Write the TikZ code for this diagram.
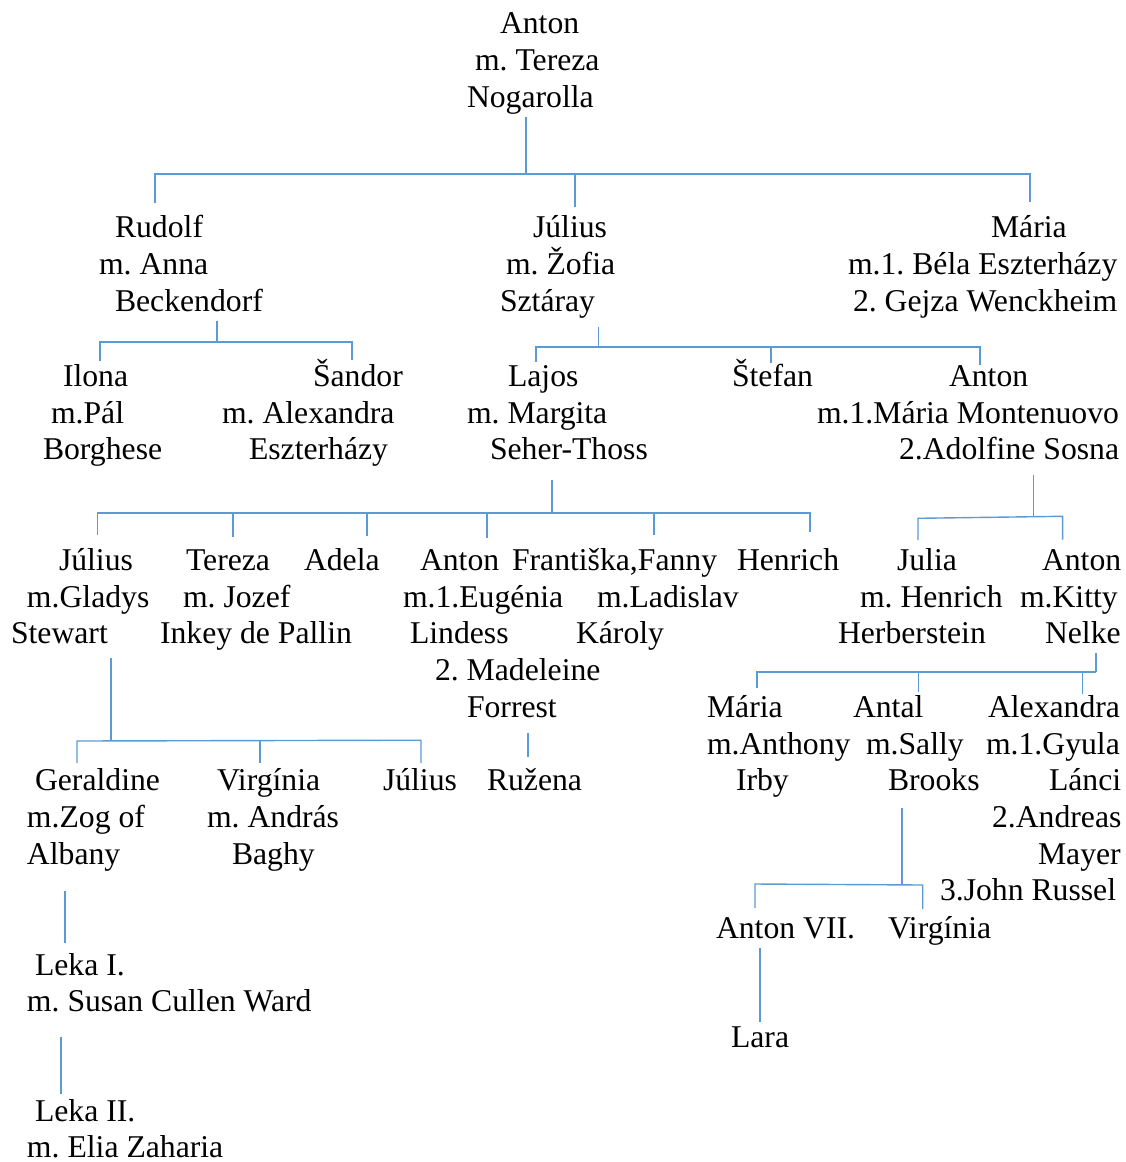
\documentclass[tikz,border=0pt]{standalone}
\usepackage{fontspec}
\setmainfont{Liberation Serif}
\frenchspacing
\definecolor{linkblue}{RGB}{91,155,213}
\tikzset{
  txt/.style={anchor=base west,inner sep=0pt,outer sep=0pt,font=\fontsize{31.7}{37}\selectfont},
  link/.style={draw=linkblue,line width=1.4pt}
}
\begin{document}
\frenchspacing
\begin{tikzpicture}[x=1pt,y=-1pt]
\useasboundingbox (0,0) rectangle (1125,1162);
% ---------- generation 0
\node[txt] (a0a) at (500,33) {Anton};
\node[txt] (a0b) at (475,70) {m. Tereza};
\node[txt] (a0c) at (467,107) {Nogarolla};
% ---------- generation 1
\node[txt] (rua) at (115,237) {Rudolf};
\node[txt] (rub) at (99,274) {m. Anna};
\node[txt] (ruc) at (115,311) {Beckendorf};
\node[txt] (jua) at (533,237) {Július};
\node[txt] (jub) at (506,274) {m. Žofia};
\node[txt] (juc) at (500,311) {Sztáray};
\node[txt] (maa) at (991,237) {Mária};
\node[txt] (mab) at (848,274) {m.1. Béla Eszterházy};
\node[txt] (mac) at (853,311) {2. Gejza Wenckheim};
% ---------- generation 2
\node[txt] (ila) at (63,386) {Ilona};
\node[txt] (ilb) at (51,423) {m.Pál};
\node[txt] (ilc) at (43,459) {Borghese};
\node[txt] (saa) at (313,386) {Šandor};
\node[txt] (sab) at (222,423) {m. Alexandra};
\node[txt] (sac) at (249,459) {Eszterházy};
\node[txt] (laa) at (508,386) {Lajos};
\node[txt] (lab) at (467,423) {m. Margita};
\node[txt] (lac) at (490,459) {Seher-Thoss};
\node[txt] (sta) at (732,386) {Štefan};
\node[txt] (ana) at (949,386) {Anton};
\node[txt] (anb) at (817,423) {m.1.Mária Montenuovo};
\node[txt] (anc) at (899,459) {2.Adolfine Sosna};
% ---------- generation 3
\node[txt] (jga) at (59,570) {Július};
\node[txt] (jgb) at (27,607) {m.Gladys};
\node[txt] (jgc) at (11,643) {Stewart};
\node[txt] (tea) at (186,570) {Tereza};
\node[txt] (teb) at (183,607) {m. Jozef};
\node[txt] (tec) at (160,643) {Inkey de Pallin};
\node[txt] (ada) at (304,570) {Adela};
\node[txt] (aea) at (420,570) {Anton};
\node[txt] (aeb) at (403,607) {m.1.Eugénia};
\node[txt] (aec) at (410,643) {Lindess};
\node[txt] (aed) at (435,680) {2. Madeleine};
\node[txt] (aee) at (467,717) {Forrest};
\node[txt] (fra) at (512,570) {Františka,Fanny};
\node[txt] (frb) at (597,607) {m.Ladislav};
\node[txt] (frc) at (576,643) {Károly};
\node[txt] (hea) at (737,570) {Henrich};
\node[txt] (jla) at (897,570) {Julia};
\node[txt] (jlb) at (860,607) {m. Henrich};
\node[txt] (jlc) at (838,643) {Herberstein};
\node[txt] (aka) at (1042,570) {Anton};
\node[txt] (akb) at (1020,607) {m.Kitty};
\node[txt] (akc) at (1045,643) {Nelke};
% ---------- generation 4
\node[txt] (gea) at (35,790) {Geraldine};
\node[txt] (geb) at (27,827) {m.Zog of};
\node[txt] (gec) at (27,864) {Albany};
\node[txt] (via) at (217,790) {Virgínia};
\node[txt] (vib) at (207,827) {m. András};
\node[txt] (vic) at (232,864) {Baghy};
\node[txt] (jsa) at (383,790) {Július};
\node[txt] (rza) at (487,790) {Ružena};
\node[txt] (mia) at (707,717) {Mária};
\node[txt] (mib) at (707,754) {m.Anthony};
\node[txt] (mic) at (736,790) {Irby};
\node[txt] (ata) at (853,717) {Antal};
\node[txt] (atb) at (866,754) {m.Sally};
\node[txt] (atc) at (888,790) {Brooks};
\node[txt] (ala) at (988,717) {Alexandra};
\node[txt] (alb) at (986,754) {m.1.Gyula};
\node[txt] (alc) at (1049,790) {Lánci};
\node[txt] (ald) at (992,827) {2.Andreas};
\node[txt] (ale) at (1038,864) {Mayer};
\node[txt] (alf) at (940,900) {3.John Russel};
% ---------- generation 5+
\node[txt] (a7a) at (716,938) {Anton VII.};
\node[txt] (v2a) at (888,938) {Virgínia};
\node[txt] (lra) at (731,1047) {Lara};
\node[txt] (l1a) at (35,975) {Leka I.};
\node[txt] (l1b) at (27,1011) {m. Susan Cullen Ward};
\node[txt] (l2a) at (35,1121) {Leka II.};
\node[txt] (l2b) at (27,1157) {m. Elia Zaharia};
% ---------- connector points
\coordinate (p0) at (526,117);  \coordinate (p0h) at (526,174);
\coordinate (p0l) at (155,174); \coordinate (p0ld) at (155,203);
\coordinate (p0m) at (575,174); \coordinate (p0md) at (575,207);
\coordinate (p0r) at (1030,174);\coordinate (p0rd) at (1030,202);
\coordinate (p1) at (217,321);  \coordinate (p1h) at (217,342);
\coordinate (p1l) at (100,342); \coordinate (p1ld) at (100,361);
\coordinate (p1r) at (352,342); \coordinate (p1rd) at (352,360);
\coordinate (p2) at (598.5,327); \coordinate (p2h) at (598.5,347);
\coordinate (p2l) at (536,347); \coordinate (p2ld) at (536,362);
\coordinate (p2m) at (771,347); \coordinate (p2md) at (771,363);
\coordinate (p2r) at (980,347); \coordinate (p2rd) at (980,365);
\coordinate (p3) at (552,480);  \coordinate (p3h) at (552,513);
\coordinate (p3a) at (97.5,513); \coordinate (p3ad) at (97.5,535);
\coordinate (p3b) at (233,513); \coordinate (p3bd) at (233,537);
\coordinate (p3c) at (367,513); \coordinate (p3cd) at (367,536);
\coordinate (p3d) at (487,513); \coordinate (p3dd) at (487,538);
\coordinate (p3e) at (654,513); \coordinate (p3ed) at (654,535);
\coordinate (p3f) at (810,513); \coordinate (p3fd) at (810,532);
\coordinate (p4) at (1033.5,475); \coordinate (p4h) at (1033.5,516.8);
\coordinate (p4l) at (918,518.3); \coordinate (p4ld) at (918,540);
\coordinate (p4r) at (1062.6,516.3); \coordinate (p4rd) at (1062.6,539.5);
\coordinate (p5) at (111,658);  \coordinate (p5h) at (111,740.7);
\coordinate (p5a) at (77,741);  \coordinate (p5ad) at (77,763);
\coordinate (p5b) at (260,740.8); \coordinate (p5bd) at (260,763);
\coordinate (p5c) at (421,740.2); \coordinate (p5cd) at (421,763);
\coordinate (p6) at (528,733);  \coordinate (p6d) at (528,757);
\coordinate (p7) at (65,891);   \coordinate (p7d) at (65,943);
\coordinate (p8) at (61,1037);  \coordinate (p8d) at (61,1094);
\coordinate (p9) at (1096,653); \coordinate (p9h) at (1096,672);
\coordinate (p9a) at (757,672); \coordinate (p9ad) at (757,688);
\coordinate (p9b) at (918.3,672); \coordinate (p9bd) at (918.3,692);
\coordinate (p9c) at (1082.7,672); \coordinate (p9cd) at (1082.7,694);
\coordinate (q1) at (902,808);  \coordinate (q1h) at (902,884.6);
\coordinate (q1l) at (755,884); \coordinate (q1ld) at (755,908);
\coordinate (q1r) at (922.7,885); \coordinate (q1rd) at (922.7,909);
\coordinate (q2) at (760,948);  \coordinate (q2d) at (760,1022);
% ---------- connectors
\draw[link] (p0) -- (p0h);
\draw[link] (p0ld) -- (p0l) -- (p0r) -- (p0rd);
\draw[link] (p0m) -- (p0md);
\draw[link] (p1) -- (p1h);
\draw[link] (p1ld) -- (p1l) -- (p1r) -- (p1rd);
\draw[link] (p2) -- (p2h);
\draw[link] (p2ld) -- (p2l) -- (p2r) -- (p2rd);
\draw[link] (p2m) -- (p2md);
\draw[link] (p3) -- (p3h);
\draw[link] (p3ad) -- (p3a) -- (p3f) -- (p3fd);
\draw[link] (p3b) -- (p3bd);
\draw[link] (p3c) -- (p3cd);
\draw[link] (p3d) -- (p3dd);
\draw[link] (p3e) -- (p3ed);
\draw[link] (p4) -- (p4h);
\draw[link] (p4ld) -- (p4l) -- (p4r) -- (p4rd);
\draw[link] (p5) -- (p5h);
\draw[link] (p5ad) -- (p5a) -- (p5c) -- (p5cd);
\draw[link] (p5b) -- (p5bd);
\draw[link] (p6) -- (p6d);
\draw[link] (p7) -- (p7d);
\draw[link] (p8) -- (p8d);
\draw[link] (p9) -- (p9h);
\draw[link] (p9ad) -- (p9a) -- (p9h);
\draw[link] (p9b) -- (p9bd);
\draw[link] (p9c) -- (p9cd);
\draw[link] (q1) -- (q1h);
\draw[link] (q1ld) -- (q1l) -- (q1r) -- (q1rd);
\draw[link] (q2) -- (q2d);
\end{tikzpicture}
\end{document}
